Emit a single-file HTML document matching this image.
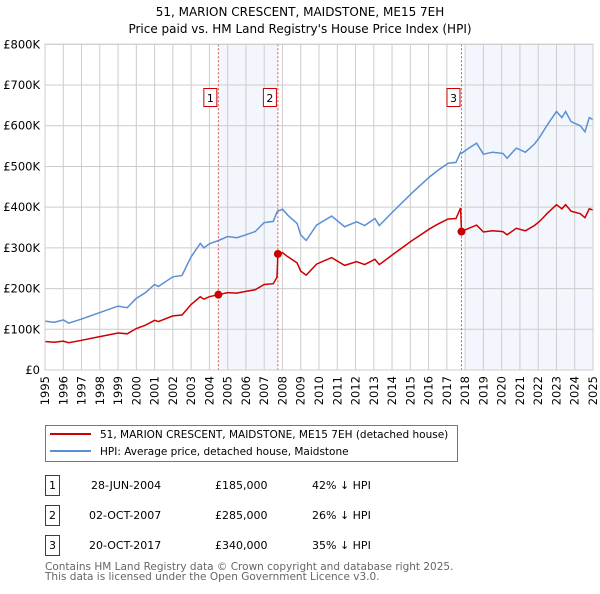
<!DOCTYPE html>
<html><head><meta charset="utf-8"><style>
body{margin:0;background:#fff;font-family:"DejaVu Sans","Liberation Sans",sans-serif}
svg text{font-family:"DejaVu Sans","Liberation Sans",sans-serif}
</style></head><body>
<svg id="chart" width="600" height="590" viewBox="0 0 600 590" xmlns="http://www.w3.org/2000/svg">
<text x="300" y="16" text-anchor="middle" font-size="12">51, MARION CRESCENT, MAIDSTONE, ME15 7EH</text>
<text x="300" y="33" text-anchor="middle" font-size="12">Price paid vs. HM Land Registry's House Price Index (HPI)</text>
<g id="shade"></g>
<g id="grid"></g>
<g id="series"></g>
<g id="marks"></g>
<g id="axes"></g>

<g>
<rect x="45.5" y="425.5" width="412" height="36" fill="#fff" stroke="#777"/>
<line x1="50" y1="434" x2="91" y2="434" stroke="#cc0000" stroke-width="2"/>
<text x="100" y="438" font-size="10.5">51, MARION CRESCENT, MAIDSTONE, ME15 7EH (detached house)</text>
<line x1="50" y1="451" x2="91" y2="451" stroke="#5b8fd4" stroke-width="2"/>
<text x="100" y="455" font-size="10.5">HPI: Average price, detached house, Maidstone</text>
</g>
<g font-size="11">
<rect x="45.5" y="475.5" width="14" height="20" fill="#fff" stroke="#c00"/><text x="52.5" y="489" text-anchor="middle">1</text>
<text x="91" y="489">28-JUN-2004</text><text x="215" y="489">£185,000</text><text x="312" y="489">42% ↓ HPI</text>
<rect x="45.5" y="505.5" width="14" height="20" fill="#fff" stroke="#c00"/><text x="52.5" y="519" text-anchor="middle">2</text>
<text x="89" y="519">02-OCT-2007</text><text x="215" y="519">£285,000</text><text x="312" y="519">26% ↓ HPI</text>
<rect x="45.5" y="535.5" width="14" height="20" fill="#fff" stroke="#c00"/><text x="52.5" y="549" text-anchor="middle">3</text>
<text x="89" y="549">20-OCT-2017</text><text x="215" y="549">£340,000</text><text x="312" y="549">35% ↓ HPI</text>
</g>
<text x="45" y="570" font-size="10.5" fill="#666">Contains HM Land Registry data © Crown copyright and database right 2025.</text>
<text x="45" y="580" font-size="10.5" fill="#666">This data is licensed under the Open Government Licence v3.0.</text>
</svg>
<script>
const dates=[1995.0,1995.5,1996.0,1996.3,1997.0,1998.0,1999.0,1999.5,2000.0,2000.5,2001.0,2001.2,2002.0,2002.5,2003.0,2003.5,2003.7,2004.0,2004.5,2005.0,2005.5,2006.0,2006.5,2007.0,2007.5,2007.7,2007.75,2008.0,2008.3,2008.8,2009.0,2009.3,2009.87,2010.69,2011.4,2012.06,2012.5,2013.06,2013.3,2014.05,2015.07,2016.07,2016.5,2017.07,2017.5,2017.75,2017.8,2018.2,2018.63,2019.0,2019.5,2020.07,2020.3,2020.8,2021.3,2021.8,2022.1,2022.5,2023.0,2023.3,2023.5,2023.8,2024.3,2024.56,2024.8,2025.0];
const hpiValues=[120,117,123,115,125,141,157,153,176,190,210,205,229,232,278,311,300,310,318,328,325,332,340,362,365,388,390,395,380,360,332,318,356,378,352,364,355,372,355,389,434,475,490,508,510,535,532,545,557,530,535,532,520,545,535,555,573,602,635,620,635,610,600,585,620,615];
const priceValues=[70,68,71,67,73,82,91,89,102,110,122,119,133,135,161,180,174,180,185,190,189,193,197,210,212,228,285,288,278,263,243,233,260,276,257,266,259,272,259,284,317,347,358,371,372,398,340,348,356,339,342,340,332,348,342,355,366,385,406,396,406,390,384,374,396,393];
const saleDates=[2004.49,2007.75,2017.8];
const saleValues=[185,285,340];
const saleLabels=["1","2","3"];
const yTicks=[0,100,200,300,400,500,600,700,800];
const yTickLabels=["£0","£100K","£200K","£300K","£400K","£500K","£600K","£700K","£800K"];
const xYears=[1995,1996,1997,1998,1999,2000,2001,2002,2003,2004,2005,2006,2007,2008,2009,2010,2011,2012,2013,2014,2015,2016,2017,2018,2019,2020,2021,2022,2023,2024,2025];

const L=45,R=593,T=44.3,B=370;
const xs=d=>L+(d-1995)/30*(R-L);
const ys=v=>B-v/800*(B-T);
const NS="http://www.w3.org/2000/svg";
function mk(tag,attrs,parent){const e=document.createElementNS(NS,tag);for(const k in attrs)e.setAttribute(k,attrs[k]);parent.appendChild(e);return e;}
const gS=document.getElementById('shade'),gG=document.getElementById('grid'),gSe=document.getElementById('series'),gM=document.getElementById('marks'),gA=document.getElementById('axes');
let s1=mk('rect',{x:xs(saleDates[0]),y:T,width:xs(saleDates[1])-xs(saleDates[0]),height:B-T,fill:'#eef3fc',opacity:0.7},gS);


let s2=mk('rect',{x:xs(2018.05),y:T,width:R-xs(2018.05),height:B-T,fill:'#eef3fc',opacity:0.7},gS);


xYears.forEach(y=>{const l=mk('line',{x1:xs(y),x2:xs(y),y1:T,y2:B,stroke:'#cccccc','stroke-width':1},gG);


const t=mk('text',{x:0,y:0,'font-size':11.5,'text-anchor':'end',transform:`translate(${xs(y)+4},376) rotate(-90)`},gA);t.textContent=y;

});
yTicks.forEach((v,i)=>{const l=mk('line',{x1:L,x2:R,y1:ys(v),y2:ys(v),stroke:'#cccccc','stroke-width':1},gG);


const t=mk('text',{x:40,y:ys(v)+4,'font-size':11.5,'text-anchor':'end'},gA);t.textContent=yTickLabels[i];

});
saleDates.forEach(d=>{const l=mk('line',{x1:xs(d),x2:xs(d),y1:T,y2:B,stroke:'#e05050','stroke-width':1,'stroke-dasharray':'2,2'},gG);

});
const pts=a=>a.map((v,i)=>xs(dates[i]).toFixed(1)+','+ys(v).toFixed(1)).join(' ');
const hp=mk('polyline',{points:pts(hpiValues),fill:'none',stroke:'#5b8fd4','stroke-width':1.5},gSe);


const pp=mk('polyline',{points:pts(priceValues),fill:'none',stroke:'#cc0000','stroke-width':1.5},gSe);


saleDates.forEach((d,i)=>{const c=mk('circle',{cx:xs(d),cy:ys(saleValues[i]),r:4,fill:'#cc0000'},gM);


const r=mk('rect',{x:xs(d)-14.5,y:88.5,width:13,height:18,fill:'#fff',stroke:'#c00'},gM);


const t=mk('text',{x:xs(d)-8,y:102,'font-size':11,'text-anchor':'middle'},gM);t.textContent=saleLabels[i];

});
const ax=mk('rect',{x:L,y:T,width:R-L,height:B-T,fill:'none',stroke:'#cccccc'},gA);


</script>
</body></html>
